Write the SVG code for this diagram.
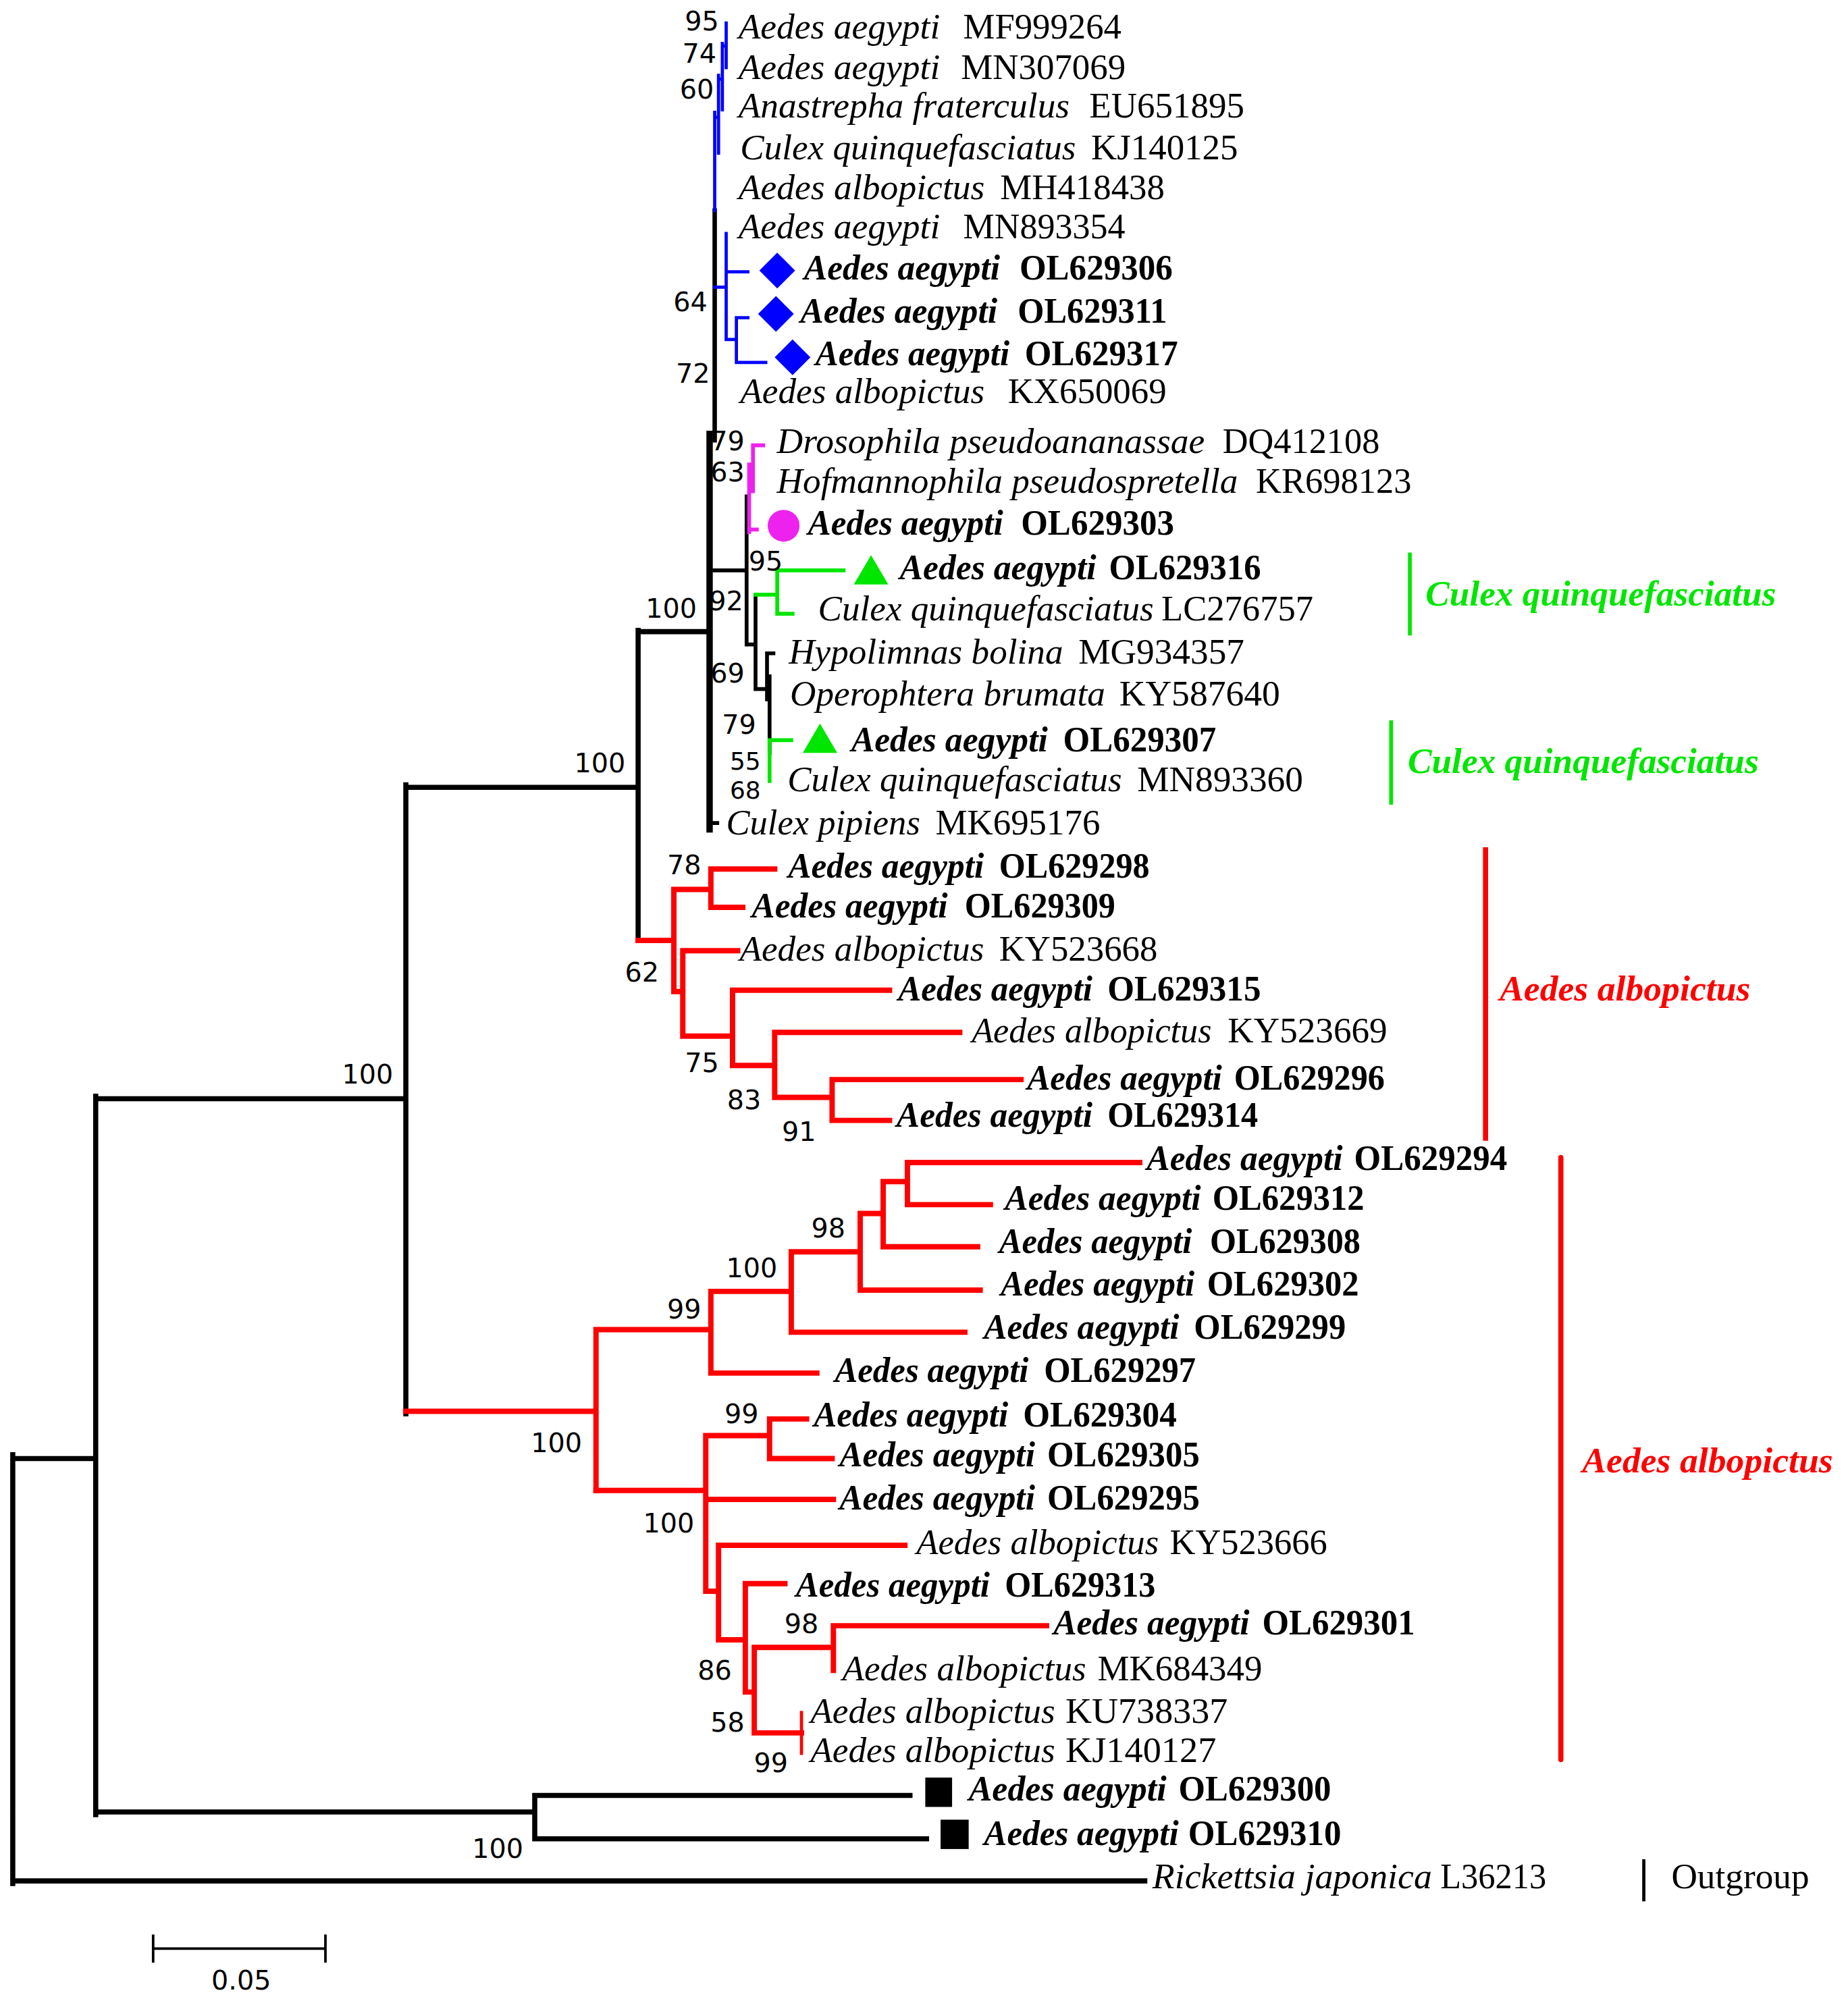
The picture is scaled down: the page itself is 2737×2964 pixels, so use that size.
<svg xmlns="http://www.w3.org/2000/svg" width="2737" height="2964" viewBox="0 0 2737 2964">
<style>
.lab{font-family:"Liberation Serif","Times New Roman",serif;font-size:27.5px;fill:#000}
.sp{font-style:italic}
.b{font-weight:bold}
.bs{font-family:"DejaVu Sans",Verdana,sans-serif;font-size:21px;fill:#000;text-anchor:middle}
.sm{font-size:19px}
.blk{fill:none;stroke:#000;stroke-linecap:square}
.red{fill:none;stroke:#f00;stroke-linecap:square}
.blu{fill:none;stroke:#0000ff;stroke-linecap:square}
.pnk{fill:none;stroke:#ee22ee;stroke-linecap:square}
.grn{fill:none;stroke:#00e600;stroke-linecap:square}
.clade{font-family:"Liberation Serif","Times New Roman",serif;font-size:28px;font-style:italic;font-weight:bold}
</style>
<rect width="2737" height="2964" fill="#fff"/>
<g transform="scale(1.8902)">
<g id="connectors">
<path class="blk" stroke-width="4" d="M10,1140V1476M10,1143H75M10,1474H897M75,859V1422M75,861H318M75,1420H419M419,1407V1441M419,1407H713M419,1441H726M318,615V1108M318,617H500M500,494V737M500,495H556"/>
<path class="blk" stroke-width="3.5" d="M560,165V345"/>
<path class="blk" stroke-width="5" d="M556,340V650"/>
<path class="blk" stroke-width="3" d="M556,645H562M558,447H585M585,389V505M585,505H592M592,466V540M592,540H601M601,512V548M601,512H606M601,548H603M603,530V590"/>
<path class="blu" stroke-width="2.5" d="M569,18V53M566,34V86M566,36H569M563,59V120M563,62H566M560,88V165M560,92H563M569,183V266M560,225H569M569,213H586M569,266H577M577,249V284M577,249H586M577,284H600"/>
<path class="pnk" stroke-width="3" d="M590,349V385M590,349H598M587,364V417M587,375H590M587,415H593"/>
<path class="grn" stroke-width="3" d="M592,466H609M609,447V481M609,447H661M609,481H621M603,580V612M603,580H620"/>
<path class="red" stroke-width="4.2" d="M500,737H528M528,697V777M528,697H557M557,681V711M557,681H607M557,711H582M528,777H535M535,745V812M535,745H578M535,812H574M574,776V835M574,776H697M574,835H607M607,809V860M607,809H752M607,860H652M652,846V878M652,846H800M652,878H697"/>
<path class="red" stroke-width="4.2" d="M318,1106H467M467,1042V1168M467,1042H557M557,1012V1076M557,1012H620M620,981V1044M620,981H674M674,951V1011M674,951H692M692,926V977M692,926H711M711,911V944M711,911H893M711,944H776M692,977H766M674,1011H768M620,1044H756M557,1076H640"/>
<path class="red" stroke-width="4.2" d="M467,1168H553M553,1125V1247M553,1125H603M603,1112V1143M603,1112H632M603,1143H652M553,1175H653M553,1247H563M563,1211V1285M563,1211H709M563,1285H584M584,1241V1326M584,1241H615M584,1326H591M591,1291V1358M591,1291H653M653,1274V1309M653,1274H820M591,1358H628"/>
<path class="red" stroke-width="2.5" d="M628,1342V1374"/>
</g>
<g id="bootstrap">
<text class="bs" x="550" y="24">95</text><text class="bs" x="548" y="49">74</text><text class="bs" x="546" y="77">60</text>
<text class="bs" x="541" y="244">64</text><text class="bs" x="543" y="300">72</text>
<text class="bs" x="570" y="353">79</text><text class="bs" x="570" y="377">63</text>
<text class="bs" x="600" y="447">95</text><text class="bs" x="569" y="478">92</text>
<text class="bs" x="570" y="535">69</text><text class="bs" x="579" y="575">79</text><text class="bs sm" x="584" y="603">55</text><text class="bs sm" x="584" y="626">68</text>
<text class="bs" x="526" y="484">100</text><text class="bs" x="470" y="605">100</text><text class="bs" x="288" y="849">100</text>
<text class="bs" x="536" y="685">78</text><text class="bs" x="503" y="769">62</text><text class="bs" x="550" y="840">75</text><text class="bs" x="583" y="869">83</text><text class="bs" x="626" y="894">91</text>
<text class="bs" x="649" y="970">98</text><text class="bs" x="589" y="1001">100</text><text class="bs" x="536" y="1033">99</text>
<text class="bs" x="581" y="1115">99</text><text class="bs" x="436" y="1138">100</text><text class="bs" x="524" y="1201">100</text>
<text class="bs" x="628" y="1280">98</text><text class="bs" x="560" y="1316">86</text><text class="bs" x="570" y="1357">58</text><text class="bs" x="604" y="1389">99</text>
<text class="bs" x="390" y="1456">100</text>
</g>
<g id="leaf-MF999264"><text class="lab" y="30"><tspan class="sp" x="578.6" textLength="158" lengthAdjust="spacingAndGlyphs">Aedes aegypti</tspan><tspan x="754.7" textLength="124" lengthAdjust="spacingAndGlyphs">MF999264</tspan></text></g>
<g id="leaf-MN307069"><text class="lab" y="62"><tspan class="sp" x="578.6" textLength="158" lengthAdjust="spacingAndGlyphs">Aedes aegypti</tspan><tspan x="753" textLength="129" lengthAdjust="spacingAndGlyphs">MN307069</tspan></text></g>
<g id="leaf-EU651895"><text class="lab" y="92"><tspan class="sp" x="578.6" textLength="259.5" lengthAdjust="spacingAndGlyphs">Anastrepha fraterculus</tspan><tspan x="853.5" textLength="121.5" lengthAdjust="spacingAndGlyphs">EU651895</tspan></text></g>
<g id="leaf-KJ140125"><text class="lab" y="125"><tspan class="sp" x="580" textLength="263" lengthAdjust="spacingAndGlyphs">Culex quinquefasciatus</tspan><tspan x="855" textLength="115" lengthAdjust="spacingAndGlyphs">KJ140125</tspan></text></g>
<g id="leaf-MH418438"><text class="lab" y="156"><tspan class="sp" x="578.6" textLength="193" lengthAdjust="spacingAndGlyphs">Aedes albopictus</tspan><tspan x="783.6" textLength="129" lengthAdjust="spacingAndGlyphs">MH418438</tspan></text></g>
<g id="leaf-MN893354"><text class="lab" y="187"><tspan class="sp" x="578.6" textLength="158" lengthAdjust="spacingAndGlyphs">Aedes aegypti</tspan><tspan x="754.7" textLength="127" lengthAdjust="spacingAndGlyphs">MN893354</tspan></text></g>
<g id="leaf-OL629306"><path d="M609,198L623,212L609,226L595,212Z" fill="#0000ff"/><text class="lab b" y="219"><tspan class="sp" x="630" textLength="153.6" lengthAdjust="spacingAndGlyphs">Aedes aegypti</tspan><tspan x="798.8" textLength="120" lengthAdjust="spacingAndGlyphs">OL629306</tspan></text></g>
<g id="leaf-OL629311"><path d="M608,232L622,246L608,260L594,246Z" fill="#0000ff"/><text class="lab b" y="253"><tspan class="sp" x="627" textLength="154.5" lengthAdjust="spacingAndGlyphs">Aedes aegypti</tspan><tspan x="797.4" textLength="117" lengthAdjust="spacingAndGlyphs">OL629311</tspan></text></g>
<g id="leaf-OL629317"><path d="M621,266L635,280L621,294L607,280Z" fill="#0000ff"/><text class="lab b" y="286"><tspan class="sp" x="639" textLength="152" lengthAdjust="spacingAndGlyphs">Aedes aegypti</tspan><tspan x="803" textLength="120" lengthAdjust="spacingAndGlyphs">OL629317</tspan></text></g>
<g id="leaf-KX650069"><text class="lab" y="316"><tspan class="sp" x="580" textLength="191.5" lengthAdjust="spacingAndGlyphs">Aedes albopictus</tspan><tspan x="789.7" textLength="124.3" lengthAdjust="spacingAndGlyphs">KX650069</tspan></text></g>
<g id="leaf-DQ412108"><text class="lab" y="355"><tspan class="sp" x="608.7" textLength="335.3" lengthAdjust="spacingAndGlyphs">Drosophila pseudoananassae</tspan><tspan x="958" textLength="123" lengthAdjust="spacingAndGlyphs">DQ412108</tspan></text></g>
<g id="leaf-KR698123"><text class="lab" y="386"><tspan class="sp" x="608.7" textLength="361.3" lengthAdjust="spacingAndGlyphs">Hofmannophila pseudospretella</tspan><tspan x="984" textLength="122" lengthAdjust="spacingAndGlyphs">KR698123</tspan></text></g>
<g id="leaf-OL629303"><circle cx="614" cy="412" r="12.5" fill="#ee22ee"/><text class="lab b" y="419"><tspan class="sp" x="633" textLength="153" lengthAdjust="spacingAndGlyphs">Aedes aegypti</tspan><tspan x="800" textLength="120" lengthAdjust="spacingAndGlyphs">OL629303</tspan></text></g>
<g id="leaf-OL629316"><path d="M682.5,435L696,458L669,458Z" fill="#00e600"/><text class="lab b" y="454"><tspan class="sp" x="705" textLength="154" lengthAdjust="spacingAndGlyphs">Aedes aegypti</tspan><tspan x="869" textLength="119" lengthAdjust="spacingAndGlyphs">OL629316</tspan></text></g>
<g id="leaf-LC276757"><text class="lab" y="486"><tspan class="sp" x="641" textLength="263" lengthAdjust="spacingAndGlyphs">Culex quinquefasciatus</tspan><tspan x="910" textLength="119" lengthAdjust="spacingAndGlyphs">LC276757</tspan></text></g>
<g id="leaf-MG934357"><text class="lab" y="520"><tspan class="sp" x="618" textLength="215" lengthAdjust="spacingAndGlyphs">Hypolimnas bolina</tspan><tspan x="845" textLength="130" lengthAdjust="spacingAndGlyphs">MG934357</tspan></text></g>
<g id="leaf-KY587640"><text class="lab" y="553"><tspan class="sp" x="619" textLength="247" lengthAdjust="spacingAndGlyphs">Operophtera brumata</tspan><tspan x="877" textLength="126" lengthAdjust="spacingAndGlyphs">KY587640</tspan></text></g>
<g id="leaf-OL629307"><path d="M642.5,567L656,590L629,590Z" fill="#00e600"/><text class="lab b" y="589"><tspan class="sp" x="667" textLength="154" lengthAdjust="spacingAndGlyphs">Aedes aegypti</tspan><tspan x="833" textLength="120" lengthAdjust="spacingAndGlyphs">OL629307</tspan></text></g>
<g id="leaf-MN893360"><text class="lab" y="620"><tspan class="sp" x="617" textLength="262" lengthAdjust="spacingAndGlyphs">Culex quinquefasciatus</tspan><tspan x="891" textLength="130" lengthAdjust="spacingAndGlyphs">MN893360</tspan></text></g>
<g id="leaf-MK695176"><text class="lab" y="654"><tspan class="sp" x="569" textLength="152" lengthAdjust="spacingAndGlyphs">Culex pipiens</tspan><tspan x="733" textLength="129" lengthAdjust="spacingAndGlyphs">MK695176</tspan></text></g>
<g id="leaf-OL629298"><text class="lab b" y="688"><tspan class="sp" x="617.5" textLength="153.5" lengthAdjust="spacingAndGlyphs">Aedes aegypti</tspan><tspan x="782.8" textLength="118" lengthAdjust="spacingAndGlyphs">OL629298</tspan></text></g>
<g id="leaf-OL629309"><text class="lab b" y="719"><tspan class="sp" x="589" textLength="153.6" lengthAdjust="spacingAndGlyphs">Aedes aegypti</tspan><tspan x="755.9" textLength="118" lengthAdjust="spacingAndGlyphs">OL629309</tspan></text></g>
<g id="leaf-KY523668"><text class="lab" y="753"><tspan class="sp" x="579.6" textLength="191.4" lengthAdjust="spacingAndGlyphs">Aedes albopictus</tspan><tspan x="782.8" textLength="124.2" lengthAdjust="spacingAndGlyphs">KY523668</tspan></text></g>
<g id="leaf-OL629315"><text class="lab b" y="784"><tspan class="sp" x="703.8" textLength="152.2" lengthAdjust="spacingAndGlyphs">Aedes aegypti</tspan><tspan x="867.7" textLength="120.3" lengthAdjust="spacingAndGlyphs">OL629315</tspan></text></g>
<g id="leaf-KY523669"><text class="lab" y="817"><tspan class="sp" x="761.4" textLength="188" lengthAdjust="spacingAndGlyphs">Aedes albopictus</tspan><tspan x="962" textLength="125" lengthAdjust="spacingAndGlyphs">KY523669</tspan></text></g>
<g id="leaf-OL629296"><text class="lab b" y="854"><tspan class="sp" x="804.8" textLength="152.7" lengthAdjust="spacingAndGlyphs">Aedes aegypti</tspan><tspan x="967" textLength="118" lengthAdjust="spacingAndGlyphs">OL629296</tspan></text></g>
<g id="leaf-OL629314"><text class="lab b" y="883"><tspan class="sp" x="702.5" textLength="153.5" lengthAdjust="spacingAndGlyphs">Aedes aegypti</tspan><tspan x="867.7" textLength="118" lengthAdjust="spacingAndGlyphs">OL629314</tspan></text></g>
<g id="leaf-OL629294"><text class="lab b" y="917"><tspan class="sp" x="898.5" textLength="153.5" lengthAdjust="spacingAndGlyphs">Aedes aegypti</tspan><tspan x="1061" textLength="120" lengthAdjust="spacingAndGlyphs">OL629294</tspan></text></g>
<g id="leaf-OL629312"><text class="lab b" y="948"><tspan class="sp" x="787.4" textLength="153.6" lengthAdjust="spacingAndGlyphs">Aedes aegypti</tspan><tspan x="950" textLength="119" lengthAdjust="spacingAndGlyphs">OL629312</tspan></text></g>
<g id="leaf-OL629308"><text class="lab b" y="982"><tspan class="sp" x="782.8" textLength="151.2" lengthAdjust="spacingAndGlyphs">Aedes aegypti</tspan><tspan x="948" textLength="118" lengthAdjust="spacingAndGlyphs">OL629308</tspan></text></g>
<g id="leaf-OL629302"><text class="lab b" y="1015"><tspan class="sp" x="784" textLength="152" lengthAdjust="spacingAndGlyphs">Aedes aegypti</tspan><tspan x="945.8" textLength="119" lengthAdjust="spacingAndGlyphs">OL629302</tspan></text></g>
<g id="leaf-OL629299"><text class="lab b" y="1049"><tspan class="sp" x="771" textLength="153" lengthAdjust="spacingAndGlyphs">Aedes aegypti</tspan><tspan x="935.5" textLength="119" lengthAdjust="spacingAndGlyphs">OL629299</tspan></text></g>
<g id="leaf-OL629297"><text class="lab b" y="1083"><tspan class="sp" x="654" textLength="152" lengthAdjust="spacingAndGlyphs">Aedes aegypti</tspan><tspan x="818" textLength="119" lengthAdjust="spacingAndGlyphs">OL629297</tspan></text></g>
<g id="leaf-OL629304"><text class="lab b" y="1118"><tspan class="sp" x="637.6" textLength="152.4" lengthAdjust="spacingAndGlyphs">Aedes aegypti</tspan><tspan x="801.6" textLength="120.4" lengthAdjust="spacingAndGlyphs">OL629304</tspan></text></g>
<g id="leaf-OL629305"><text class="lab b" y="1149"><tspan class="sp" x="657.7" textLength="153.3" lengthAdjust="spacingAndGlyphs">Aedes aegypti</tspan><tspan x="820.6" textLength="119.4" lengthAdjust="spacingAndGlyphs">OL629305</tspan></text></g>
<g id="leaf-OL629295"><text class="lab b" y="1183"><tspan class="sp" x="657.7" textLength="153.3" lengthAdjust="spacingAndGlyphs">Aedes aegypti</tspan><tspan x="820.6" textLength="119.4" lengthAdjust="spacingAndGlyphs">OL629295</tspan></text></g>
<g id="leaf-KY523666"><text class="lab" y="1218"><tspan class="sp" x="718" textLength="190" lengthAdjust="spacingAndGlyphs">Aedes albopictus</tspan><tspan x="916.6" textLength="123.4" lengthAdjust="spacingAndGlyphs">KY523666</tspan></text></g>
<g id="leaf-OL629313"><text class="lab b" y="1251"><tspan class="sp" x="623.6" textLength="152" lengthAdjust="spacingAndGlyphs">Aedes aegypti</tspan><tspan x="787.4" textLength="118" lengthAdjust="spacingAndGlyphs">OL629313</tspan></text></g>
<g id="leaf-OL629301"><text class="lab b" y="1281"><tspan class="sp" x="825.4" textLength="153.6" lengthAdjust="spacingAndGlyphs">Aedes aegypti</tspan><tspan x="989" textLength="119.7" lengthAdjust="spacingAndGlyphs">OL629301</tspan></text></g>
<g id="leaf-MK684349"><text class="lab" y="1317"><tspan class="sp" x="660" textLength="191" lengthAdjust="spacingAndGlyphs">Aedes albopictus</tspan><tspan x="860" textLength="129" lengthAdjust="spacingAndGlyphs">MK684349</tspan></text></g>
<g id="leaf-KU738337"><text class="lab" y="1350"><tspan class="sp" x="635" textLength="191.7" lengthAdjust="spacingAndGlyphs">Aedes albopictus</tspan><tspan x="834.8" textLength="127.2" lengthAdjust="spacingAndGlyphs">KU738337</tspan></text></g>
<g id="leaf-KJ140127"><text class="lab" y="1381"><tspan class="sp" x="635" textLength="191.7" lengthAdjust="spacingAndGlyphs">Aedes albopictus</tspan><tspan x="834.8" textLength="118.2" lengthAdjust="spacingAndGlyphs">KJ140127</tspan></text></g>
<g id="leaf-OL629300"><rect x="725" y="1393" width="21" height="23" fill="#000"/><text class="lab b" y="1411"><tspan class="sp" x="759" textLength="155" lengthAdjust="spacingAndGlyphs">Aedes aegypti</tspan><tspan x="923.5" textLength="119.5" lengthAdjust="spacingAndGlyphs">OL629300</tspan></text></g>
<g id="leaf-OL629310"><rect x="737" y="1426" width="22" height="23" fill="#000"/><text class="lab b" y="1446"><tspan class="sp" x="771" textLength="152.5" lengthAdjust="spacingAndGlyphs">Aedes aegypti</tspan><tspan x="931" textLength="120" lengthAdjust="spacingAndGlyphs">OL629310</tspan></text></g>
<g id="leaf-L36213"><text class="lab" y="1480"><tspan class="sp" x="903" textLength="219" lengthAdjust="spacingAndGlyphs">Rickettsia japonica</tspan><tspan x="1128.6" textLength="83" lengthAdjust="spacingAndGlyphs">L36213</tspan></text></g>
<g id="clade-culex-1"><line x1="1104.7" y1="433" x2="1104.7" y2="498" stroke="#00e600" stroke-width="3"/><text class="clade" x="1117" y="474.5" fill="#00e600" textLength="274.6" lengthAdjust="spacingAndGlyphs">Culex quinquefasciatus</text></g>
<g id="clade-culex-2"><line x1="1090" y1="564.5" x2="1090" y2="630.6" stroke="#00e600" stroke-width="3"/><text class="clade" x="1103" y="606" fill="#00e600" textLength="275" lengthAdjust="spacingAndGlyphs">Culex quinquefasciatus</text></g>
<g id="clade-albopictus-1"><line x1="1164" y1="664" x2="1164" y2="894" stroke="#f00" stroke-width="4"/><text class="clade" x="1175" y="784" fill="#f00" textLength="196.5" lengthAdjust="spacingAndGlyphs">Aedes albopictus</text></g>
<g id="clade-albopictus-2"><line x1="1223" y1="907" x2="1223" y2="1379" stroke="#f00" stroke-width="4" stroke-linecap="round"/><text class="clade" x="1239.7" y="1154" fill="#f00" textLength="196.5" lengthAdjust="spacingAndGlyphs">Aedes albopictus</text></g>
<g id="clade-outgroup"><line x1="1288" y1="1457" x2="1288" y2="1490" stroke="#000" stroke-width="2.5"/><text class="lab" x="1309.6" y="1480" textLength="108" lengthAdjust="spacingAndGlyphs">Outgroup</text></g>
<g id="scale-bar"><path class="blk" stroke-width="2" d="M120,1517V1537M255,1517V1537M120,1527H255"/><text class="bs" x="189" y="1559">0.05</text></g>
</g>
</svg>
